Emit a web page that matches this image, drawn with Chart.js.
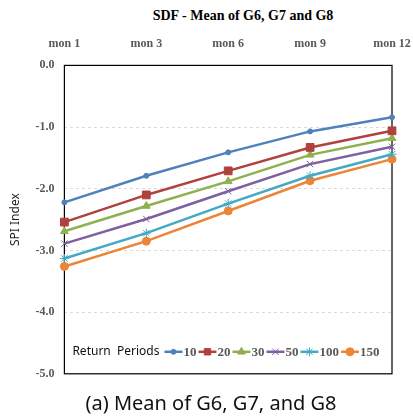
<!DOCTYPE html>
<html>
<head>
<meta charset="utf-8">
<script src="https://cdn.jsdelivr.net/npm/chart.js@4.4.1/dist/chart.umd.min.js"></script>
<style>
  body { margin: 0; background: #fff; }
  .wrap { position: relative; width: 413px; height: 416px; }
  .chart-box { position: absolute; left: 0; top: 0; width: 413px; height: 391px; }
  .title { position: absolute; top: 8px; left: 145px; width: 196px; text-align: center;
           font: bold 14px "Liberation Serif", serif; color: #000; white-space: nowrap; }
  .caption { position: absolute; top: 389px; left: 0; width: 422px; text-align: center;
             font: 20px "Noto Sans", "Open Sans", sans-serif; color: #111; }
</style>
</head>
<body>
<div class="wrap">
  <div class="title">SDF - Mean of G6, G7 and G8</div>
  <div class="chart-box"><canvas id="spiChart"></canvas></div>
  <div class="caption">(a) Mean of G6, G7, and G8</div>
</div>
<script>
// --- data ---
const months = ['mon 1', 'mon 3', 'mon 6', 'mon 9', 'mon 12'];
const periods = ['10', '20', '30', '50', '100', '150'];

const rp10  = [-2.22, -1.79, -1.41, -1.07, -0.84];
const rp20  = [-2.54, -2.10, -1.71, -1.33, -1.06];
const rp30  = [-2.69, -2.28, -1.88, -1.45, -1.18];
const rp50  = [-2.89, -2.49, -2.04, -1.60, -1.32];
const rp100 = [-3.13, -2.72, -2.24, -1.79, -1.44];
const rp150 = [-3.26, -2.85, -2.36, -1.87, -1.52];

const yTicks = [0, -1, -2, -3, -4, -5];

const SERIF = '"Liberation Serif", "Times New Roman", serif';
const SANS = '"Noto Sans", "Open Sans", sans-serif';

function series(label, data, color, style, radius, borderW) {
  return {
    label, data,
    borderColor: color,
    backgroundColor: color,
    pointBackgroundColor: color,
    pointBorderColor: color,
    pointStyle: style,
    pointRadius: radius,
    pointBorderWidth: borderW,
    borderWidth: 2.5,
    tension: 0
  };
}

const datasets = [
  series(periods[0], rp10,  '#4F81BD', 'circle',   2.5, 1),
  series(periods[1], rp20,  '#B0413E', 'rect',     5.5, 1),
  series(periods[2], rp30,  '#8FB04E', 'triangle', 4.5, 1),
  series(periods[3], rp50,  '#7D60A0', 'crossRot', 4.5, 1),
  series(periods[4], rp100, '#43A9C4', 'star',     4.5, 1),
  series(periods[5], rp150, '#EC8537', 'circle',   4,   1)
];

// solid frame round the plot, drawn under the lines
const framePlugin = {
  id: 'frame',
  beforeDatasetsDraw(chart) {
    const { ctx, chartArea: a } = chart;
    ctx.save();
    ctx.strokeStyle = '#000';
    ctx.lineWidth = 1.2;
    ctx.strokeRect(a.left, a.top, a.right - a.left, a.bottom - a.top);
    ctx.restore();
  }
};

// "Return Periods" legend inside the plot, near the bottom
const legendPlugin = {
  id: 'innerLegend',
  afterDraw(chart) {
    const { ctx, chartArea: a } = chart;
    const y = a.bottom - 22;
    let x = a.left + 8;
    ctx.save();
    ctx.textBaseline = 'middle';
    ctx.fillStyle = '#111';
    ctx.font = '12px ' + SANS;
    ctx.fillText('Return  Periods', x, y);
    x += ctx.measureText('Return  Periods').width + 5;
    ctx.font = 'bold 13px ' + SERIF;
    chart.data.datasets.forEach(ds => {
      ctx.strokeStyle = ds.borderColor;
      ctx.lineWidth = 2.5;
      ctx.beginPath();
      ctx.moveTo(x, y);
      ctx.lineTo(x + 18, y);
      ctx.stroke();
      ctx.fillStyle = ds.pointBackgroundColor;
      ctx.strokeStyle = ds.pointBorderColor;
      ctx.lineWidth = 1;
      Chart.helpers.drawPoint(ctx, {
        pointStyle: ds.pointStyle,
        radius: Math.min(ds.pointRadius, 4.5),
        rotation: 0,
        borderWidth: 1
      }, x + 9, y);
      x += 19;
      ctx.fillStyle = '#595959';
      ctx.fillText(ds.label, x, y + 1);
      x += ctx.measureText(ds.label).width + 2;
    });
    ctx.restore();
  }
};

new Chart(document.getElementById('spiChart'), {
  type: 'line',
  data: { labels: months, datasets },
  plugins: [framePlugin, legendPlugin],
  options: {
    responsive: true,
    maintainAspectRatio: false,
    animation: false,
    layout: { padding: { top: 23, right: 21, left: 0, bottom: 0 } },
    plugins: {
      legend: { display: false },
      tooltip: { enabled: false }
    },
    scales: {
      x: {
        position: 'top',
        offset: false,
        afterFit(scale) {
          scale.paddingLeft = 0;
          scale.paddingRight = 0;
        },
        grid: { display: false, drawTicks: false },
        border: { display: false },
        ticks: {
          padding: 14,
          maxRotation: 0,
          color: '#595959',
          font: { family: SERIF, size: 12, weight: 'bold' }
        }
      },
      y: {
        min: -5,
        max: 0,
        afterBuildTicks(scale) {
          scale.ticks = yTicks.map(v => ({ value: v }));
        },
        grid: { color: '#d9d9d9', lineWidth: 1, drawTicks: false },
        border: { display: false, dash: [3, 3] },
        title: {
          display: true,
          text: 'SPI Index',
          color: '#222',
          padding: { top: 8, bottom: 3 },
          font: { family: SANS, size: 12 }
        },
        ticks: {
          padding: 10,
          color: '#595959',
          font: { family: SERIF, size: 12, weight: 'bold' },
          callback: v => Number(v).toFixed(1)
        }
      }
    }
  }
});
</script>
</body>
</html>
